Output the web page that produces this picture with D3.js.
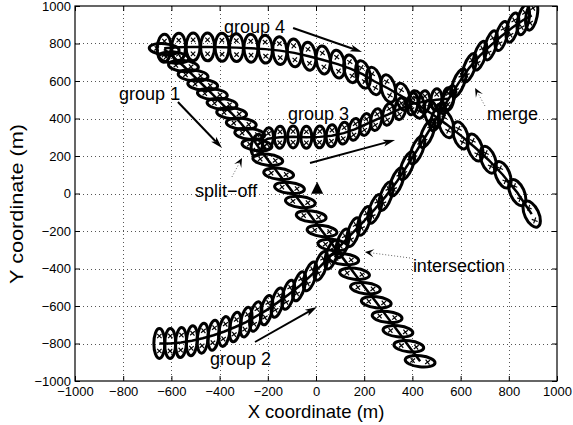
<!DOCTYPE html>
<html><head><meta charset="utf-8">
<script src="https://cdn.jsdelivr.net/npm/d3@7"></script>
<style>body{margin:0;background:#fff} text{font-family:"Liberation Sans",Arial,Helvetica,sans-serif;fill:#000}</style>
</head><body><svg id="c" width="573" height="425"></svg>
<script>
const xTicks = [-1000,-800,-600,-400,-200,0,200,400,600,800,1000];
const yTicks = [-1000,-800,-600,-400,-200,0,200,400,600,800,1000];

const group1 = [[-630,770],[-590,725],[-550,680],[-510,630],[-470,580],[-430,530],[-390,478],[-350,428],[-310,372],[-275,318],[-245,258],[-200,180],[-155,105],[-110,30],[-65,-45],[-20,-122],[25,-200],[70,-275],[115,-350],[160,-428],[205,-505],[250,-580],[295,-658],[340,-735],[385,-815],[432,-895]];
const group2 = [[-650,-800],[-605,-800],[-560,-795],[-515,-785],[-470,-772],[-425,-756],[-380,-736],[-335,-712],[-290,-686],[-250,-656],[-205,-622],[-160,-582],[-115,-540],[-70,-495],[-25,-442],[20,-386],[65,-326],[110,-266],[155,-206],[200,-146],[245,-82],[290,-14],[335,62],[378,148],[420,232],[462,320],[505,410],[548,500],[592,590],[636,670],[680,735],[725,790],[770,840],[815,885],[860,925],[895,950]];
const group3 = [[-245,258],[-200,292],[-150,300],[-95,302],[-40,300],[15,302],[65,308],[115,322],[160,342],[205,368],[250,394],[300,422],[350,452],[400,478],[450,490],[500,500],[548,505]];
const group4 = [[-630,775],[-570,780],[-510,782],[-450,782],[-390,780],[-330,778],[-270,775],[-210,770],[-150,762],[-90,750],[-30,732],[30,712],[90,690],[145,665],[195,635],[240,600],[300,560],[360,515],[420,475],[480,425],[540,370],[600,310],[660,245],[715,180],[775,100],[835,5],[895,-110]];
const startMarker = [[5,25]];

const labelTexts = ["group 4","group 1","group 3","group 2","split−off","intersection","merge"];
const labelAnchors = [[-382,856],[-817,499],[-116,392],[-440,-915],[-502,-19],[402,-419],[710,392]];
const solidArrows = [[[-95,883],[191,755]],[[-573,488],[-390,243]],[[-25,163],[328,285]],[[-253,-792],[4,-605]]];
const dottedArrows = [[[-349,88],[-307,189]],[[390,-344],[203,-312]],[[701,467],[660,563]]];

const W=573,H=425;
const svg=d3.select("#c");
svg.append("rect").attr("width",W).attr("height",H).attr("fill","#fff");
const x=d3.scaleLinear().domain([-1000,1000]).range([75,557]);
const y=d3.scaleLinear().domain([-1000,1000]).range([381,6]);
const L=x.range()[0],R=x.range()[1],T=y.range()[1],B=y.range()[0];

svg.append("defs").append("clipPath").attr("id","clip").append("rect")
  .attr("x",L).attr("y",T).attr("width",R-L).attr("height",B-T);

// grid
const grid=svg.append("g").attr("stroke","#555").attr("stroke-width",1).attr("stroke-dasharray","1,3");
grid.selectAll(".gx").data(xTicks.slice(1,-1)).join("line")
  .attr("x1",d=>Math.round(x(d))+0.5).attr("x2",d=>Math.round(x(d))+0.5).attr("y1",T).attr("y2",B);
grid.selectAll(".gy").data(yTicks.slice(1,-1)).join("line")
  .attr("y1",d=>Math.round(y(d))+0.5).attr("y2",d=>Math.round(y(d))+0.5).attr("x1",L).attr("x2",R);

// tracks
const plot=svg.append("g").attr("clip-path","url(#clip)");
const groups=[
  {pts:group1, rx:15, ry:5.5, wide:true, k:0.12},
  {pts:group2, rx:5.5, ry:15, wide:false, k:-0.38},
  {pts:group3, rx:5.5, ry:11, wide:false, k:-0.4},
  {pts:group4, rx:7, ry:14, wide:false, k:-0.45}
];
groups.forEach(g=>{
  const n=g.pts.length;
  const items=g.pts.map((p,i)=>{
    const a=g.pts[Math.max(i-1,0)], b=g.pts[Math.min(i+1,n-1)];
    const phi=Math.atan2(y(b[1])-y(a[1]), x(b[0])-x(a[0]))*180/Math.PI;
    return {p,rot:g.k*phi};
  });
  const e=plot.append("g").selectAll("g").data(items).join("g")
    .attr("transform",d=>`translate(${x(d.p[0])},${y(d.p[1])}) rotate(${d.rot})`);
  e.append("ellipse").attr("rx",g.rx).attr("ry",g.ry)
    .attr("fill","none").attr("stroke","#000").attr("stroke-width",3);
  const offs = g.wide? [[-g.rx*0.5,0],[g.rx*0.5,0]] : [[0,-g.ry*0.5],[0,g.ry*0.5]];
  offs.forEach(o=>{
    e.append("path").attr("d",`M${o[0]-2.2},${o[1]-2.2}L${o[0]+2.2},${o[1]+2.2}M${o[0]-2.2},${o[1]+2.2}L${o[0]+2.2},${o[1]-2.2}`)
      .attr("stroke","#000").attr("stroke-width",1.2);
  });
});
const line=d3.line().x(d=>x(d[0])).y(d=>y(d[1]));
groups.forEach(g=>{
  plot.append("path").attr("d",line(g.pts)).attr("fill","none").attr("stroke","#000").attr("stroke-width",2.5);
});
plot.selectAll(".tri").data(startMarker).join("path")
  .attr("transform",d=>`translate(${x(d[0])},${y(d[1])})`)
  .attr("d","M0,-7L6,5L-6,5Z").attr("fill","#000");

// axes box
svg.append("rect").attr("x",L).attr("y",T).attr("width",R-L).attr("height",B-T)
  .attr("fill","none").attr("stroke","#000").attr("stroke-width",1.2);
const fmt=d3.format("d");
const ax=(g)=>{g.select(".domain").remove(); g.selectAll(".tick line").attr("stroke","#000");
  g.selectAll("text").attr("font-size",13).attr("font-family","'Liberation Sans',Arial,sans-serif").attr("fill","#000");};
svg.append("g").attr("transform",`translate(0,${B})`)
  .call(d3.axisBottom(x).tickValues(xTicks).tickFormat(fmt).tickSize(-5).tickPadding(6)).call(ax);
svg.append("g").attr("transform",`translate(0,${T})`)
  .call(d3.axisTop(x).tickValues(xTicks).tickSize(-5).tickFormat("")).call(ax);
svg.append("g").attr("transform",`translate(${L},0)`)
  .call(d3.axisLeft(y).tickValues(yTicks).tickFormat(fmt).tickSize(-5).tickPadding(4)).call(ax);
svg.append("g").attr("transform",`translate(${R},0)`)
  .call(d3.axisRight(y).tickValues(yTicks).tickSize(-5).tickFormat("")).call(ax);

// axis labels
svg.append("text").attr("x",(L+R)/2).attr("y",418).attr("text-anchor","middle")
  .attr("font-size",18.5).text("X coordinate (m)");
svg.append("text").attr("transform","translate(23,204) rotate(-90)").attr("text-anchor","middle")
  .attr("font-size",18).attr("textLength",160).attr("lengthAdjust","spacingAndGlyphs").text("Y coordinate (m)");

// annotations
function arrowHead(g,a,b,len,hw,notch,fill){
  const x1=x(a[0]),y1=y(a[1]),x2=x(b[0]),y2=y(b[1]);
  const ang=Math.atan2(y2-y1,x2-x1), c=Math.cos(ang), s=Math.sin(ang);
  const P=(u,v)=>[x2+u*c-v*s, y2+u*s+v*c];
  const pts=[P(0,0),P(-len,-hw),P(-notch,0),P(-len,hw)];
  g.append("path").attr("d","M"+pts.map(p=>p.join(",")).join("L")+"Z").attr("fill",fill);
  return P(-notch,0);
}
const ann=svg.append("g");
solidArrows.forEach(([a,b])=>{
  const end=arrowHead(ann,a,b,12,3.5,9,"#000");
  ann.append("line").attr("x1",x(a[0])).attr("y1",y(a[1])).attr("x2",end[0]).attr("y2",end[1])
    .attr("stroke","#000").attr("stroke-width",2);
});
dottedArrows.forEach(([a,b])=>{
  const end=arrowHead(ann,a,b,9,4,5,"#000");
  ann.append("line").attr("x1",x(a[0])).attr("y1",y(a[1])).attr("x2",end[0]).attr("y2",end[1])
    .attr("stroke","#666").attr("stroke-width",1).attr("stroke-dasharray","1,2");
});
ann.selectAll(".lab").data(labelTexts).join("text")
  .attr("x",(d,i)=>x(labelAnchors[i][0])).attr("y",(d,i)=>y(labelAnchors[i][1]))
  .attr("font-size",18).text(d=>d);
</script></body></html>
